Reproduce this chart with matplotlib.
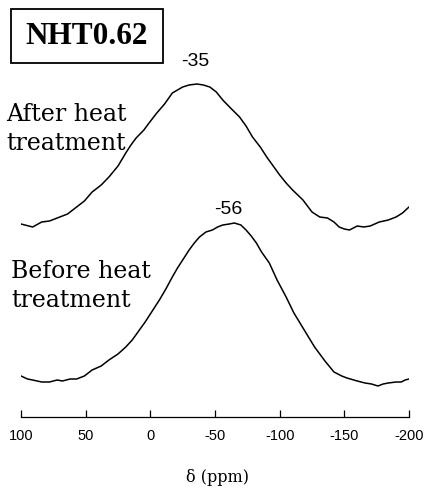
import matplotlib
matplotlib.use("Agg")
import matplotlib.pyplot as plt
from matplotlib.patches import Rectangle

# chemical shift (ppm) and intensity (arbitrary units) for each spectrum
after_ppm = [100, 91, 84, 78, 70, 64, 57, 51, 45, 38, 32, 25, 19, 15, 11, 5, 1, -5, -11, -17, -25,
             -30, -36, -41, -46, -51, -56, -62, -69, -74, -79, -85, -90, -95, -100, -105, -110,
             -118, -125, -131, -137, -142, -146, -150, -154, -160, -165, -170, -177, -184, -190, -195, -200]
after_int = [193, 190, 195, 196, 200, 203, 210, 216, 225, 232, 240, 251, 264, 272, 279, 287, 294, 304, 313, 324, 330,
             332, 333, 332, 330, 325, 317, 309, 300, 291, 280, 270, 260, 251, 242, 234, 227,
             217, 205, 200, 199, 195, 190, 188, 187, 191, 190, 191, 195, 197, 200, 204, 210]

before_ppm = [100, 95, 91, 84, 78, 72, 68, 62, 57, 51, 45, 38, 32, 25, 19, 14, 9, 4, 1, -4, -7, -12,
              -17, -21, -25, -30, -34, -38, -43, -48, -52, -56, -61, -65, -70, -74, -78, -82, -86,
              -92, -98, -105, -111, -119, -127, -135, -142, -148, -152, -160, -166, -171, -176,
              -180, -184, -190, -194, -197, -200]
before_int = [41, 38, 37, 35, 35, 37, 36, 38, 38, 41, 47, 51, 57, 63, 70, 77, 86, 95, 101, 111, 117, 128,
              140, 149, 157, 167, 174, 180, 185, 187, 190, 192, 193, 194, 192, 187, 181, 174, 165,
              154, 137, 120, 104, 87, 70, 56, 45, 41, 39, 36, 34, 33, 31,
              33, 34, 35, 35, 37, 38]

x_ticks = [100, 50, 0, -50, -100, -150, -200]
x_labels = ["100", "50", "0", "-50", "-100", "-150", "-200"]

W, H = 430, 492
fig = plt.figure(figsize=(W / 100, H / 100), dpi=100)
ax_left, ax_right, ax_bottom, ax_top = 21, 409, 417, 40
ax = fig.add_axes([ax_left / W, 1 - ax_bottom / H, (ax_right - ax_left) / W, (ax_bottom - ax_top) / H])

ax.plot(after_ppm, after_int, color="black", lw=1.1)
ax.plot(before_ppm, before_int, color="black", lw=1.1)

ax.set_xlim(100, -200)
ax.set_ylim(0, ax_bottom - ax_top)
for s in ["top", "left", "right"]:
    ax.spines[s].set_visible(False)
ax.spines["bottom"].set_linewidth(0.9)
ax.set_yticks([])
ax.set_xticks(x_ticks)
ax.set_xticklabels(x_labels, fontfamily="Liberation Sans", fontsize=10.5)
ax.tick_params(axis="x", direction="in", length=5, width=0.9, pad=9)

def ft(x, y, s, **kw):
    fig.text(x / W, 1 - y / H, s, **kw)

# title box
fig.patches.append(Rectangle((11 / W, 1 - 63 / H), 152 / W, 54 / H, transform=fig.transFigure,
                             fill=False, ec="black", lw=1.3))
ft(87, 37, "NHT0.62", fontfamily="Liberation Serif", fontweight="bold", fontsize=22.5,
   ha="center", va="center")
ft(195, 62, "-35", fontfamily="Liberation Sans", fontsize=14, ha="center", va="center")
ft(228, 209, "-56", fontfamily="Liberation Sans", fontsize=14, ha="center", va="center")
ft(6, 129, "After heat\ntreatment", fontfamily="DejaVu Serif", fontsize=17,
   ha="left", va="center", linespacing=1.3)
ft(11, 286, "Before heat\ntreatment", fontfamily="DejaVu Serif", fontsize=17,
   ha="left", va="center", linespacing=1.3)
ft(217, 477, "δ (ppm)", fontfamily="DejaVu Serif", fontsize=11.5, ha="center", va="center")

fig.savefig("out.png", dpi=100)
